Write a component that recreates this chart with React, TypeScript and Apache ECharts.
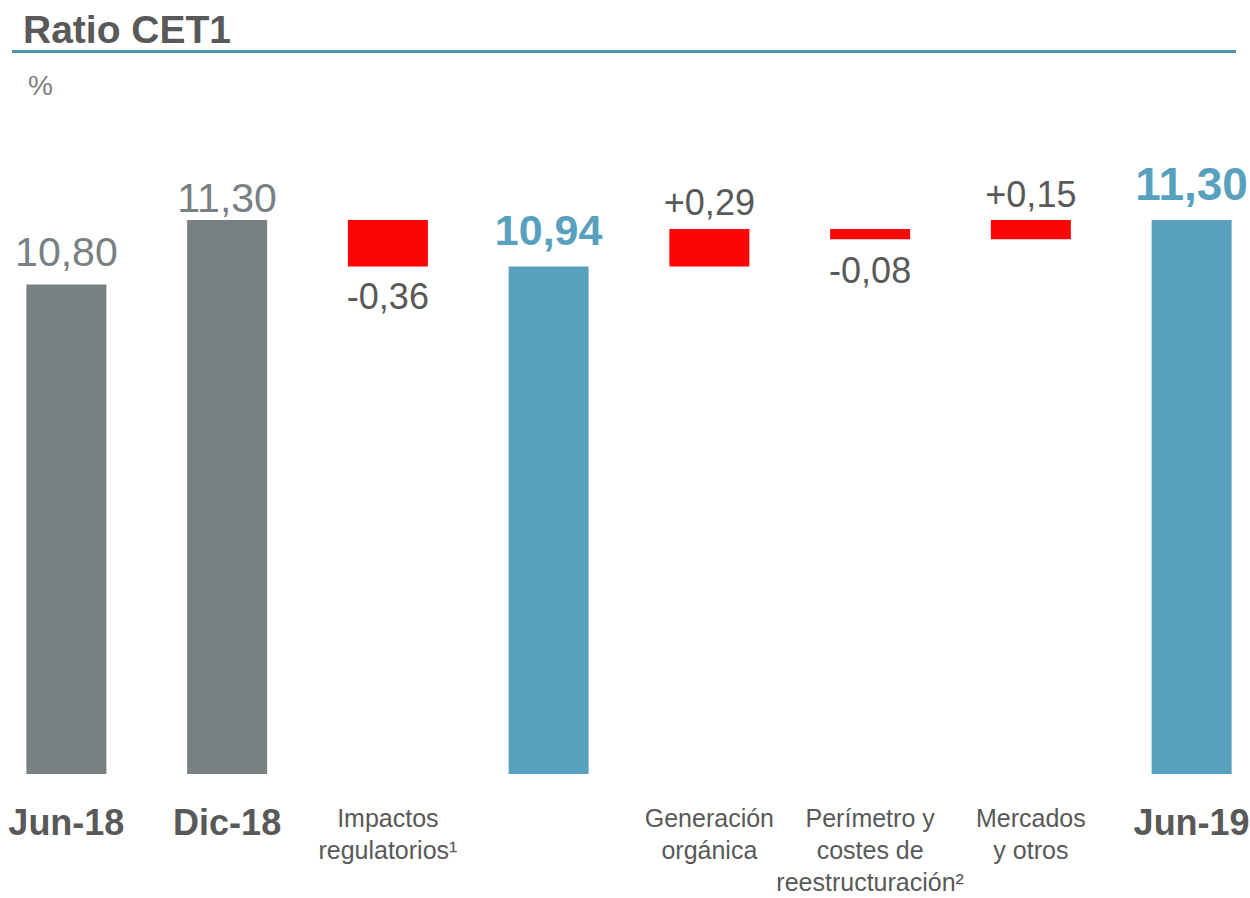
import React, { useEffect, useRef } from "react";
import * as echarts from "echarts";

const categories = [
  "Jun-18",
  "Dic-18",
  "Impactos\nregulatorios¹",
  "",
  "Generación\norgánica",
  "Perímetro y\ncostes de\nreestructuración²",
  "Mercados\ny otros",
  "Jun-19",
];
const values = [10.8, 11.3, -0.36, 10.94, 0.29, -0.08, 0.15, 11.3];
const kinds = ["prev", "prev", "delta", "now", "delta", "delta", "delta", "now"];

const FONT = "'Liberation Sans', Arial, sans-serif";
const GREY = "#798083";
const BLUE = "#57a1bf";
const RED = "#fc0505";
const DARK = "#595959";
const SHIFT = 14;

export default function App() {
  const ref = useRef<HTMLDivElement>(null);

  useEffect(() => {
    if (!ref.current) return;
    const chart = echarts.init(ref.current, null, { renderer: "svg" });

    const base: number[] = [];
    const size: number[] = [];
    let running = 0;
    values.forEach((v, i) => {
      if (kinds[i] === "delta") {
        if (v < 0) {
          base.push(running + v);
          size.push(-v);
        } else {
          base.push(running);
          size.push(v);
        }
        running += v;
      } else {
        base.push(0);
        size.push(v);
        running = v;
      }
    });

    const fmt = (v: number, k: string) => {
      const s = Math.abs(v).toFixed(2).replace(".", ",");
      if (k === "delta") return (v < 0 ? "-" : "+") + s;
      return s;
    };

    const gaps = [12, 2, 12, 15, 9, 13, 8, 13];

    const mainData = values.map((v, i) => {
      const k = kinds[i];
      const color = k === "prev" ? GREY : k === "now" ? BLUE : RED;
      let label: any;
      if (k === "prev") {
        label = { fontSize: 41, fontWeight: "normal", color: GREY };
      } else if (k === "now") {
        label = { fontSize: i === values.length - 1 ? 46 : 43, fontWeight: "bold", color: BLUE };
      } else {
        label = { fontSize: 36, fontWeight: "normal", color: DARK };
      }
      return {
        value: size[i],
        itemStyle: { color },
        label: {
          show: true,
          position: k === "delta" && v < 0 ? "bottom" : "top",
          distance: gaps[i],
          formatter: fmt(v, k),
          fontFamily: FONT,
          ...label,
        },
      };
    });

    const axisData = categories.map((c, i) => ({
      value: c,
      textStyle:
        kinds[i] === "delta"
          ? { fontSize: 25, fontWeight: "normal", color: DARK, lineHeight: 32, fontFamily: FONT }
          : { fontSize: 36, fontWeight: "bold", color: DARK, lineHeight: 40, fontFamily: FONT },
    }));

    chart.setOption({
      animation: false,
      grid: { left: 0, right: 0, top: 220, bottom: 120, containLabel: false },
      xAxis: {
        type: "category",
        data: axisData,
        axisLine: { show: false },
        axisTick: { show: false },
        axisLabel: { interval: 0, margin: 28, verticalAlign: "top" },
      },
      yAxis: {
        type: "value",
        min: 7,
        max: 11.3,
        show: false,
        splitLine: { show: false },
      },
      series: [
        {
          type: "bar",
          stack: "w",
          data: base,
          barWidth: 80,
          itemStyle: { color: "transparent" },
          silent: true,
        },
        {
          type: "bar",
          stack: "w",
          data: mainData,
          barWidth: 80,
        },
      ],
      graphic: [
        {
          type: "text",
          x: 23 + SHIFT,
          y: 29,
          style: {
            text: "Ratio CET1",
            font: `bold 39px ${FONT}`,
            fill: DARK,
            verticalAlign: "middle",
          },
        },
        {
          type: "line",
          shape: { x1: 12 + SHIFT, y1: 51.5, x2: 1236 + SHIFT, y2: 51.5 },
          style: { stroke: "#4a97a8", lineWidth: 3 },
        },
        {
          type: "text",
          x: 28 + SHIFT,
          y: 85,
          style: {
            text: "%",
            font: `28px ${FONT}`,
            fill: "#7f7f7f",
            verticalAlign: "middle",
          },
        },
      ],
    });

    return () => chart.dispose();
  }, []);

  return (
    <div style={{ position: "absolute", left: 0, top: 0, width: 1250, height: 898, overflow: "hidden", background: "#fff" }}>
      <div ref={ref} style={{ position: "absolute", left: -SHIFT, top: 0, width: 1250 + 36, height: 898 }} />
    </div>
  );
}
